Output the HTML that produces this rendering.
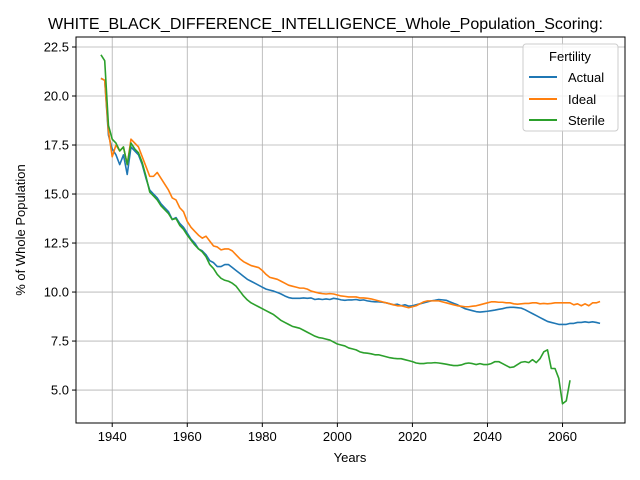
<!DOCTYPE html>
<html><head><meta charset="utf-8"><style>
html,body{margin:0;padding:0;background:#fff;}
svg{display:block;font-family:"Liberation Sans","DejaVu Sans",sans-serif;}
</style></head><body>
<svg id="chart" width="640" height="480" viewBox="0 0 640 480">
<text x="48" y="29" font-size="16">WHITE_BLACK_DIFFERENCE_INTELLIGENCE_Whole_Population_Scoring:</text>
<g id="grid"></g>
<g id="series"></g>
<rect x="76" y="37" width="549" height="386" fill="none" stroke="#000" stroke-width="1"/>
<g id="ticks"></g>
<text x="350" y="462" font-size="13" text-anchor="middle">Years</text>
<text transform="translate(25,230) rotate(-90)" font-size="13" text-anchor="middle">% of Whole Population</text>
<g>
<rect x="523" y="44" width="95" height="87" rx="3" fill="#fff" fill-opacity="0.8" stroke="#ccc"/>
<text x="570" y="61" font-size="13" text-anchor="middle">Fertility</text>
<line x1="529" y1="77" x2="557" y2="77" stroke="#1f77b4" stroke-width="2"/>
<text x="568" y="82" font-size="13">Actual</text>
<line x1="529" y1="99" x2="557" y2="99" stroke="#ff7f0e" stroke-width="2"/>
<text x="568" y="104" font-size="13">Ideal</text>
<line x1="529" y1="120" x2="557" y2="120" stroke="#2ca02c" stroke-width="2"/>
<text x="568" y="125" font-size="13">Sterile</text>
</g>
</svg>
<script>
const startYear = 1937;
const actual = [20.9,20.8,18,17.3,17.0,16.5,17.0,16.0,17.4,17.2,17.0,16.5,15.8,15.2,15.0,14.8,14.5,14.3,14.1,13.7,13.8,13.5,13.3,13.0,
12.7,12.5,12.2,12.1,11.9,11.6,11.5,11.3,11.3,11.4,11.4,11.25,11.1,10.95,10.8,10.65,10.55,10.45,10.35,10.25,10.15,10.1,10.05,9.98,9.9,9.8,9.72,9.68,9.68,9.68,9.7,9.68,9.7,9.62,9.65,9.62,9.65,9.62,9.68,9.65,9.6,9.58,9.6,9.6,9.62,9.58,9.6,9.55,9.52,9.5,9.5,9.48,9.45,9.4,9.35,9.38,9.3,9.35,9.28,9.3,9.35,9.4,9.45,9.5,9.55,9.58,9.62,9.6,9.58,9.5,9.42,9.35,9.25,9.15,9.1,9.05,9.0,8.98,9.0,9.02,9.05,9.08,9.12,9.15,9.2,9.22,9.22,9.2,9.18,9.1,9.0,8.9,8.8,8.7,8.6,8.5,8.45,8.4,8.35,8.35,8.35,8.4,8.4,8.45,8.45,8.48,8.45,8.48,8.45,8.4];
const ideal = [20.9,20.8,18.2,16.9,17.5,17.2,17.4,16.5,17.8,17.6,17.4,16.9,16.4,15.9,15.9,16.1,15.8,15.5,15.2,14.8,14.7,14.3,14.1,13.6,13.3,13.1,12.9,12.75,12.85,12.6,12.35,12.3,12.15,12.2,12.2,12.1,11.9,11.7,11.55,11.45,11.35,11.3,11.25,11.1,10.9,10.75,10.7,10.65,10.55,10.45,10.35,10.3,10.25,10.2,10.2,10.15,10.05,10.0,9.95,9.92,9.9,9.92,9.9,9.85,9.8,9.78,9.75,9.75,9.75,9.7,9.7,9.68,9.65,9.6,9.55,9.5,9.45,9.4,9.35,9.3,9.3,9.25,9.2,9.25,9.3,9.4,9.5,9.55,9.55,9.55,9.55,9.5,9.45,9.4,9.35,9.3,9.28,9.25,9.25,9.28,9.3,9.35,9.4,9.45,9.5,9.5,9.48,9.48,9.45,9.45,9.4,9.38,9.4,9.42,9.42,9.45,9.45,9.4,9.42,9.4,9.42,9.45,9.45,9.45,9.45,9.45,9.35,9.4,9.3,9.4,9.3,9.45,9.45,9.52];
const sterile = [22.1,21.8,18.5,17.8,17.6,17.2,17.4,16.5,17.6,17.3,17.1,16.6,15.9,15.1,14.9,14.7,14.4,14.2,14.0,13.7,13.75,13.4,13.2,12.9,12.65,12.4,12.2,12.05,11.8,11.4,11.2,10.9,10.7,10.6,10.55,10.45,10.3,10.05,9.8,9.6,9.45,9.35,9.25,9.15,9.05,8.95,8.85,8.7,8.55,8.45,8.35,8.25,8.2,8.15,8.05,7.95,7.85,7.75,7.68,7.65,7.6,7.55,7.45,7.35,7.3,7.25,7.15,7.1,7.05,6.95,6.9,6.88,6.85,6.8,6.8,6.75,6.7,6.65,6.62,6.6,6.6,6.55,6.5,6.45,6.38,6.35,6.35,6.38,6.38,6.4,6.38,6.35,6.32,6.28,6.25,6.25,6.28,6.35,6.38,6.35,6.3,6.35,6.3,6.3,6.35,6.45,6.45,6.35,6.25,6.15,6.18,6.3,6.42,6.45,6.4,6.55,6.4,6.6,6.95,7.05,6.1,6.1,5.6,4.3,4.45,5.5];
const xTicks = [1940,1960,1980,2000,2020,2040,2060];
const yTicks = [5.0,7.5,10.0,12.5,15.0,17.5,20.0,22.5];

const NS = "http://www.w3.org/2000/svg";
const X0 = 76, X1 = 625, Y0 = 423, Y1 = 37;
const xMin = 1930.35, xMax = 2076.65, yMin = 3.32, yMax = 23.01;
function sx(v){ return X0 + (v - xMin) / (xMax - xMin) * (X1 - X0); }
function sy(v){ return Y0 - (v - yMin) / (yMax - yMin) * (Y0 - Y1); }
function mk(tag, attrs){ const e = document.createElementNS(NS, tag); for (const k in attrs) e.setAttribute(k, attrs[k]); return e; }
const grid = document.getElementById('grid'), ticks = document.getElementById('ticks'), series = document.getElementById('series');

xTicks.forEach(t => {
  const x = sx(t);
  const g = mk('line', {x1:x, x2:x, y1:Y1, y2:Y0, stroke:'#b0b0b0', 'stroke-width':0.8});
  
  
  grid.appendChild(g);
  const tk = mk('line', {x1:x, x2:x, y1:Y0, y2:Y0+4, stroke:'#000'});
  
  
  ticks.appendChild(tk);
  const tx = mk('text', {x:x, y:Y0+18, 'font-size':13, 'text-anchor':'middle'});
  tx.textContent = t;
  
  
  ticks.appendChild(tx);
});
yTicks.forEach(t => {
  const y = sy(t);
  const g = mk('line', {x1:X0, x2:X1, y1:y, y2:y, stroke:'#b0b0b0', 'stroke-width':0.8});
  
  
  grid.appendChild(g);
  const tk = mk('line', {x1:X0-4, x2:X0, y1:y, y2:y, stroke:'#000'});
  
  
  ticks.appendChild(tk);
  const tx = mk('text', {x:X0-7, y:y+4.5, 'font-size':13, 'text-anchor':'end'});
  tx.textContent = t.toFixed(1);
  
  
  ticks.appendChild(tx);
});
function draw(vals, color, name){
  const pts = vals.map((v,i) => sx(startYear + i).toFixed(2) + ',' + sy(v).toFixed(2)).join(' ');
  const p = mk('polyline', {points:pts, fill:'none', stroke:color, 'stroke-width':1.6, 'stroke-linejoin':'round'});
  
  
  series.appendChild(p);
}
draw(actual, '#1f77b4', 'actual-line');
draw(ideal, '#ff7f0e', 'ideal-line');
draw(sterile, '#2ca02c', 'sterile-line');
</script>
</body></html>
